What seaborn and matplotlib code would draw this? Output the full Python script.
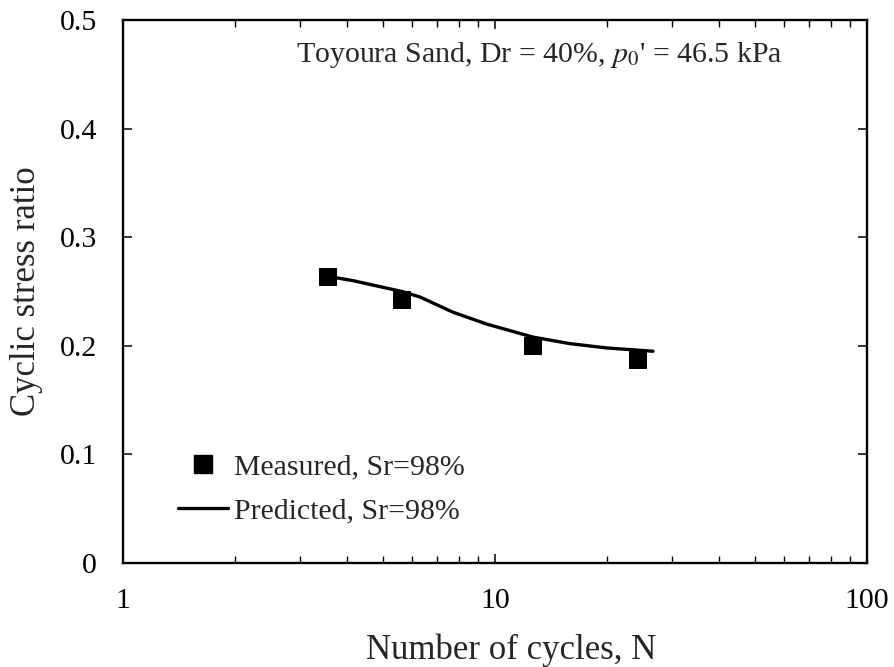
import matplotlib
matplotlib.use("Agg")
import matplotlib.pyplot as plt
from matplotlib.lines import Line2D
import seaborn as sns
import pandas as pd

# Measured cyclic strength (Sr = 98%)
measured_cycles = [3.55, 5.62, 12.65, 24.2]
measured_csr = [0.263, 0.242, 0.200, 0.187]

# Predicted cyclic strength curve (Sr = 98%)
predicted_cycles = [3.55, 4.15, 5.62, 6.28, 7.7, 9.5, 12.65, 15.9, 20.0, 26.6]
predicted_csr = [0.264, 0.260, 0.250, 0.245, 0.231, 0.220, 0.208, 0.202, 0.198, 0.195]

x_ticks = [1, 10, 100]
x_tick_labels = ["1", "10", "100"]
y_ticks = [0, 0.1, 0.2, 0.3, 0.4, 0.5]
y_tick_labels = ["0", "0.1", "0.2", "0.3", "0.4", "0.5"]

sns.set_theme(style="white")
plt.rcParams["font.family"] = ["Liberation Serif", "DejaVu Serif"]
plt.rcParams["mathtext.fontset"] = "stix"

meas_df = pd.DataFrame({"N": measured_cycles, "CSR": measured_csr})
pred_df = pd.DataFrame({"N": predicted_cycles, "CSR": predicted_csr})

fig = plt.figure(figsize=(8.95, 6.67), dpi=100)
ax = fig.add_axes([123 / 895, 1 - 563 / 667, 744 / 895, 543 / 667])

sns.lineplot(data=pred_df, x="N", y="CSR", ax=ax, color="black", linewidth=2.4,
             zorder=2, legend=False)
sns.scatterplot(data=meas_df, x="N", y="CSR", ax=ax, marker="s", s=185,
                color="black", edgecolor="black", linewidth=0, zorder=3, legend=False)

ax.set_xscale("log")
ax.set_xlim(1, 100)
ax.set_ylim(0, 0.5)
ax.set_xticks(x_ticks)
ax.set_xticklabels(x_tick_labels)
ax.set_yticks(y_ticks)
ax.set_yticklabels(y_tick_labels)

ax.tick_params(axis="both", which="both", direction="in", bottom=True, left=True,
               top=True, right=True, colors="black", labelsize=21.5)
ax.tick_params(axis="both", which="major", length=6.5, width=1.1)
ax.tick_params(axis="x", which="minor", length=4.8, width=1.0)
ax.tick_params(axis="x", which="major", pad=18)
ax.tick_params(axis="y", which="major", pad=18.7)

for side in ["left", "right", "top", "bottom"]:
    ax.spines[side].set_visible(True)
    ax.spines[side].set_color("black")
    ax.spines[side].set_linewidth(1.7)

ax.set_xlabel("Number of cycles, N", fontsize=25)
ax.set_ylabel("Cyclic stress ratio", fontsize=25)
ax.xaxis.set_label_coords(0.5215, -0.13)
ax.yaxis.set_label_coords(-0.108, 0.5)

ax.text(0.232, 0.9227, "Toyoura Sand, Dr = 40%, $p_0$' = 46.5 kPa",
        transform=ax.transAxes, fontsize=21.5, ha="left", va="baseline")

handles = [
    Line2D([], [], marker="s", linestyle="none", color="black", markersize=13.6),
    Line2D([], [], color="black", linewidth=2.4),
]
labels = ["Measured, Sr=98%", "Predicted, Sr=98%"]
ax.legend(handles, labels, loc="upper left", bbox_to_anchor=(0.0739, 0.2008),
          frameon=False, fontsize=21.5, handlelength=1.67, handletextpad=0.2,
          labelspacing=0.55, borderpad=0, borderaxespad=0)

fig.savefig("out.png", dpi=100)
